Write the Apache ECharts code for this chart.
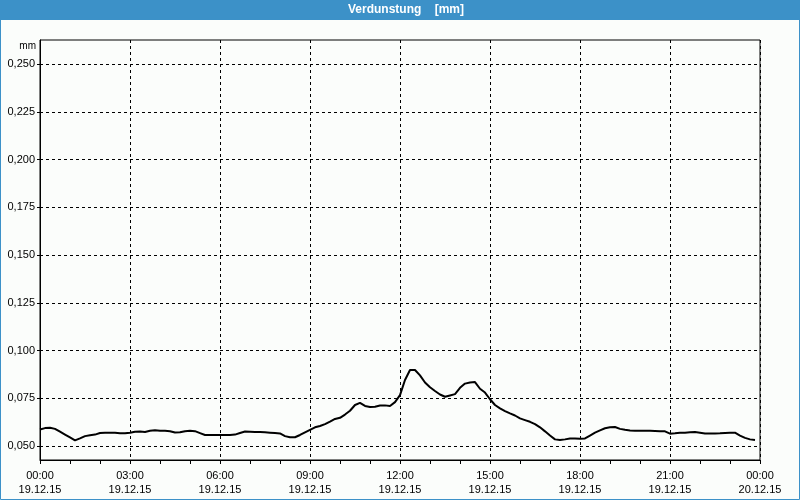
<!DOCTYPE html>
<html>
<head>
<meta charset="utf-8">
<script src="https://cdn.jsdelivr.net/npm/echarts@6/dist/echarts.min.js"></script>
<style>
html,body{margin:0;padding:0;background:#fbfdfb;}
#chart{width:800px;height:500px;}
</style>
</head>
<body>
<div id="chart"></div>
<script>
const titleText = 'Verdunstung    [mm]';
const unitText = 'mm';
const times = [
'00:00','00:10','00:20','00:30','00:40','00:50','01:00','01:10','01:20','01:30','01:40','01:50',
'02:00','02:10','02:20','02:30','02:40','02:50','03:00','03:10','03:20','03:30','03:40','03:50',
'04:00','04:10','04:20','04:30','04:40','04:50','05:00','05:10','05:20','05:30','05:40','05:50',
'06:00','06:10','06:20','06:30','06:40','06:50','07:00','07:10','07:20','07:30','07:40','07:50',
'08:00','08:10','08:20','08:30','08:40','08:50','09:00','09:10','09:20','09:30','09:40','09:50',
'10:00','10:10','10:20','10:30','10:40','10:50','11:00','11:10','11:20','11:30','11:40','11:50',
'12:00','12:10','12:20','12:30','12:40','12:50','13:00','13:10','13:20','13:30','13:40','13:50',
'14:00','14:10','14:20','14:30','14:40','14:50','15:00','15:10','15:20','15:30','15:40','15:50',
'16:00','16:10','16:20','16:30','16:40','16:50','17:00','17:10','17:20','17:30','17:40','17:50',
'18:00','18:10','18:20','18:30','18:40','18:50','19:00','19:10','19:20','19:30','19:40','19:50',
'20:00','20:10','20:20','20:30','20:40','20:50','21:00','21:10','21:20','21:30','21:40','21:50',
'22:00','22:10','22:20','22:30','22:40','22:50','23:00','23:10','23:20','23:30','23:40','23:50'
];
const values = [
0.0587,0.0594,0.0596,0.0590,0.0575,0.0560,0.0545,0.0530,0.0540,0.0552,0.0557,0.0560,
0.0568,0.0570,0.0570,0.0570,0.0567,0.0567,0.0570,0.0575,0.0576,0.0574,0.0580,0.0583,
0.0580,0.0580,0.0578,0.0571,0.0572,0.0578,0.0580,0.0578,0.0568,0.0558,0.0558,0.0558,
0.0558,0.0558,0.0558,0.0560,0.0568,0.0576,0.0575,0.0574,0.0573,0.0572,0.0570,0.0568,
0.0566,0.0552,0.0546,0.0546,0.0558,0.0572,0.0585,0.0598,0.0605,0.0615,0.0628,0.0642,
0.0648,0.0665,0.0685,0.0715,0.0726,0.0710,0.0705,0.0706,0.0712,0.0713,0.0710,0.0730,
0.0767,0.0846,0.0898,0.0898,0.0870,0.0833,0.0808,0.0788,0.0770,0.0758,0.0765,0.0772,
0.0805,0.0827,0.0833,0.0835,0.0800,0.0780,0.0745,0.0715,0.0697,0.0683,0.0671,0.0660,
0.0645,0.0636,0.0627,0.0615,0.0598,0.0577,0.0555,0.0535,0.0532,0.0535,0.0540,0.0540,
0.0538,0.0540,0.0555,0.0570,0.0582,0.0593,0.0598,0.0600,0.0590,0.0585,0.0582,0.0580,
0.0580,0.0580,0.0580,0.0579,0.0578,0.0577,0.0565,0.0567,0.0570,0.0570,0.0572,0.0573,
0.0570,0.0566,0.0566,0.0566,0.0567,0.0569,0.0570,0.0570,0.0555,0.0543,0.0535,0.0532
];
const xTickHours = [0,3,6,9,12,15,18,21,24];
const xTickLabels = ['00:00\n19.12.15','03:00\n19.12.15','06:00\n19.12.15','09:00\n19.12.15','12:00\n19.12.15','15:00\n19.12.15','18:00\n19.12.15','21:00\n19.12.15','00:00\n20.12.15'];
const yTicks = [0.050,0.075,0.100,0.125,0.150,0.175,0.200,0.225,0.250];

const FONT = '"Liberation Sans", Arial, sans-serif';
const data = times.map((t,i)=>{const p=t.split(':');return [Number(p[0])+Number(p[1])/60, values[i]];});

const chart = echarts.init(document.getElementById('chart'), null, {renderer:'canvas'});
chart.setOption({
  backgroundColor:'#fbfdfb',
  animation:false,
  grid:{left:40,right:40,top:40,bottom:40,show:true,borderColor:'#000',borderWidth:1,backgroundColor:'transparent'},
  xAxis:{
    type:'value',min:0,max:24,interval:3,
    axisLine:{show:true,lineStyle:{color:'#000',width:1}},
    axisTick:{show:true,length:4,inside:false,lineStyle:{color:'#000'}},
    minorTick:{show:true,splitNumber:3,length:4,lineStyle:{color:'#000'}},
    splitLine:{show:true,lineStyle:{color:'#000',type:[3,3],width:1}},
    axisLabel:{
      margin:9,color:'#000',fontFamily:FONT,fontSize:11,lineHeight:14,
      formatter:function(v){const i=xTickHours.indexOf(v);return i>=0?xTickLabels[i]:'';}
    }
  },
  yAxis:{
    type:'value',min:0.0427,max:0.2626,
    axisLine:{show:true,lineStyle:{color:'#000',width:1}},
    axisTick:{show:true,length:3,customValues:yTicks,lineStyle:{color:'#000'}},
    splitLine:{show:true,lineStyle:{color:'#000',type:[3,3],width:1}},
    axisLabel:{
      customValues:yTicks,margin:5,color:'#000',fontFamily:FONT,fontSize:11,
      formatter:function(v){return v.toFixed(3).replace('.',',');}
    }
  },
  series:[{
    type:'line',data:data,showSymbol:false,symbol:'none',smooth:false,
    lineStyle:{color:'#000',width:2},
    z:5
  }],
  graphic:[
    {type:'rect',shape:{x:0,y:0,width:800,height:20},style:{fill:'#3c91c8'},z:100},
    {type:'rect',shape:{x:0.5,y:0.5,width:799,height:499},style:{fill:null,stroke:'#3c91c8',lineWidth:1},z:100},
    {type:'text',x:406,y:10,style:{text:titleText,fill:'#fff',font:'bold 12px '+FONT,align:'center',verticalAlign:'middle'},z:101},
    {type:'text',x:36,y:46,style:{text:unitText,fill:'#000',font:'10px '+FONT,align:'right',verticalAlign:'middle'},z:101}
  ]
});
</script>
</body>
</html>
